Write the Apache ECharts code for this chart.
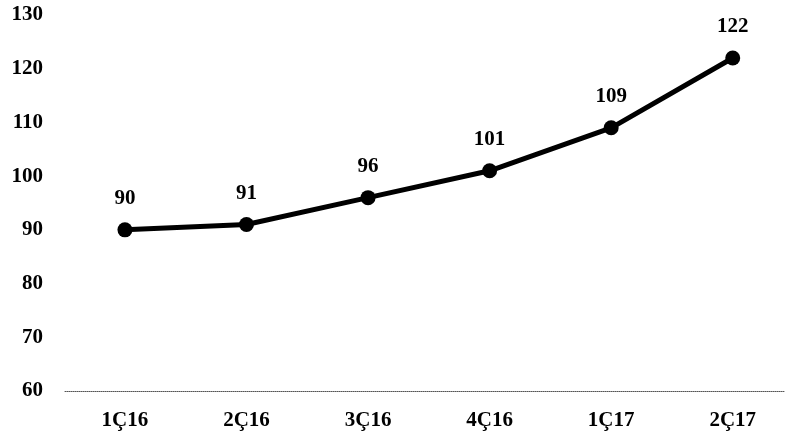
<!DOCTYPE html>
<html>
<head>
<meta charset="utf-8">
<script src="https://cdn.jsdelivr.net/npm/echarts@6/dist/echarts.min.js"></script>
<style>
  html, body { margin: 0; padding: 0; background: #ffffff; }
  #chart { width: 787px; height: 439px; }
</style>
</head>
<body>
<div id="chart"></div>
<script>
// Quarterly index values
const categories = ['1Ç16', '2Ç16', '3Ç16', '4Ç16', '1Ç17', '2Ç17'];
const values = [90, 91, 96, 101, 109, 122];
const yTicks = [60, 70, 80, 90, 100, 110, 120, 130];

const serif = '"Liberation Serif", "DejaVu Serif", serif';
const chart = echarts.init(document.getElementById('chart'));

// x positions are category indices on a value axis so the baseline spans the full width
const points = values.map((v, i) => [i, v]);

chart.setOption({
  backgroundColor: '#ffffff',
  animation: false,
  grid: { left: 65, right: 2, top: 15, bottom: 48 },
  xAxis: {
    type: 'value',
    min: -0.493,
    max: 5.43,
    splitLine: { show: false },
    axisLine: { show: true, lineStyle: { color: '#555', type: 'dotted', width: 1 } },
    axisTick: { show: false },
    axisLabel: {
      customValues: categories.map((c, i) => i),
      formatter: v => categories[Math.round(v)],
      color: '#000',
      fontFamily: serif,
      fontWeight: 'bold',
      fontSize: 21,
      margin: 19
    }
  },
  yAxis: {
    type: 'value',
    min: yTicks[0],
    max: yTicks[yTicks.length - 1],
    interval: 10,
    splitLine: { show: false },
    axisLine: { show: false },
    axisTick: { show: false },
    axisLabel: {
      color: '#000',
      fontFamily: serif,
      fontWeight: 'bold',
      fontSize: 21,
      margin: 22
    }
  },
  series: [{
    type: 'line',
    data: points,
    symbol: 'circle',
    symbolSize: 15,
    lineStyle: { color: '#000', width: 5 },
    itemStyle: { color: '#000' },
    label: {
      show: true,
      position: 'top',
      distance: 13,
      formatter: p => p.value[1],
      color: '#000',
      fontFamily: serif,
      fontWeight: 'bold',
      fontSize: 21
    }
  }]
});
</script>
</body>
</html>
